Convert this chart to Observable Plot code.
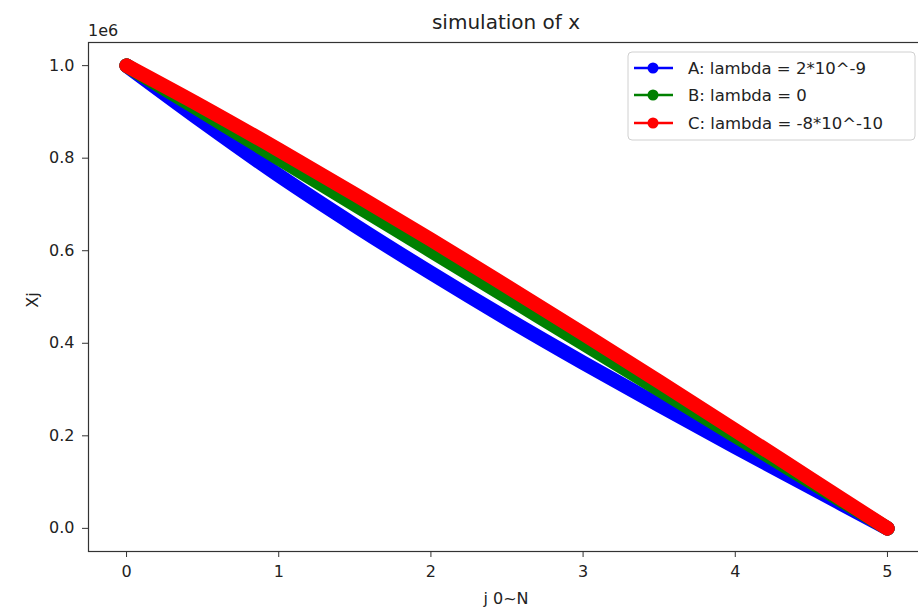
<!DOCTYPE html>
<html>
<head>
<meta charset="utf-8">
<script src="https://cdn.jsdelivr.net/npm/d3@7"></script>
<script src="https://cdn.jsdelivr.net/npm/@observablehq/plot@0.6"></script>
<style>
  html, body { margin: 0; padding: 0; background: white; }
  #chart { width: 918px; height: 610px; overflow: hidden; }
</style>
</head>
<body>
<div id="chart"></div>
<script>
// ---- data ----
const titleText = "simulation of x";
const xLabel = "j 0~N";
const yLabel = "Xj";
const offsetLabel = "1e6";
const seriesNames = ["A: lambda = 2*10^-9", "B: lambda = 0", "C: lambda = -8*10^-10"];
const seriesColors = ["#0000ff", "#008000", "#ff0000"];
const jValues = [0, 0.5, 1, 1.5, 2, 2.5, 3, 3.5, 4, 4.5, 5];
const seriesA = [1000000, 879000, 763000, 655000, 552000, 453000, 358000, 266000, 176000, 88000, 0];
const seriesB = [1000000, 900000, 800000, 700000, 600000, 500000, 400000, 300000, 200000, 100000, 0];
const seriesC = [1000000, 911000, 818000, 722000, 624000, 523000, 421000, 317000, 212000, 106000, 0];
const xTicks = [0, 1, 2, 3, 4, 5];
const yTicks = [0, 200000, 400000, 600000, 800000, 1000000];

// ---- build table ----
const allSeries = [seriesA, seriesB, seriesC];
const rows = [];
allSeries.forEach((vals, s) => {
  vals.forEach((v, i) => rows.push({series: seriesNames[s], j: jValues[i], x: v}));
});

const font = "DejaVu Sans";
const chart = Plot.plot({
  width: 918,
  height: 610,
  marginLeft: 88,
  marginRight: -7,
  marginTop: 42,
  marginBottom: 59,
  style: {fontFamily: font, fontSize: "16px", color: "#222", background: "white"},
  x: {domain: [-0.25, 5.25]},
  y: {domain: [-50000, 1050000]},
  color: {domain: seriesNames, range: seriesColors},
  marks: [
    Plot.line(rows, {x: "j", y: "x", z: "series", stroke: "series", strokeWidth: 14.5,
      curve: "catmull-rom", strokeLinecap: "round", strokeLinejoin: "round"}),
    Plot.frame({stroke: "#333", strokeWidth: 1.2}),
    Plot.axisX({ticks: xTicks, tickFormat: d => String(d), tickSize: 6, tickPadding: 8,
      fontSize: 16, label: null, stroke: "#333"}),
    Plot.axisY({ticks: yTicks, tickFormat: d => (d / 1e6).toFixed(1), tickSize: 6, tickPadding: 8,
      fontSize: 16, label: null, stroke: "#333"})
  ]
});
document.getElementById("chart").appendChild(chart);

// ---- annotations: title, offset, axis labels, legend ----
const svg = d3.select(chart);
svg.append("text").attr("x", 506).attr("y", 29).attr("text-anchor", "middle")
  .attr("font-family", font).attr("font-size", 20).attr("fill", "#222").text(titleText);
svg.append("text").attr("x", 88).attr("y", 36).attr("text-anchor", "start")
  .attr("font-family", font).attr("font-size", 16).attr("fill", "#222").text(offsetLabel);
svg.append("text").attr("x", 506).attr("y", 604).attr("text-anchor", "middle")
  .attr("font-family", font).attr("font-size", 16).attr("fill", "#222").text(xLabel);
svg.append("text").attr("transform", "translate(38,300) rotate(-90)").attr("text-anchor", "middle")
  .attr("font-family", font).attr("font-size", 16).attr("fill", "#222").text(yLabel);

const lg = svg.append("g");
lg.append("rect").attr("x", 628).attr("y", 52).attr("width", 287).attr("height", 88).attr("rx", 4)
  .attr("fill", "white").attr("fill-opacity", 0.8).attr("stroke", "#d0d0d0");
const rowY = [68, 95, 123];
seriesNames.forEach((name, i) => {
  lg.append("line").attr("x1", 634).attr("x2", 673).attr("y1", rowY[i]).attr("y2", rowY[i])
    .attr("stroke", seriesColors[i]).attr("stroke-width", 2.5);
  lg.append("circle").attr("cx", 653).attr("cy", rowY[i]).attr("r", 5.5).attr("fill", seriesColors[i]);
  lg.append("text").attr("x", 688).attr("y", rowY[i]).attr("dy", "0.35em").attr("text-anchor", "start")
    .attr("font-family", font).attr("font-size", 16.5).attr("fill", "#222").text(name);
});
</script>
</body>
</html>
